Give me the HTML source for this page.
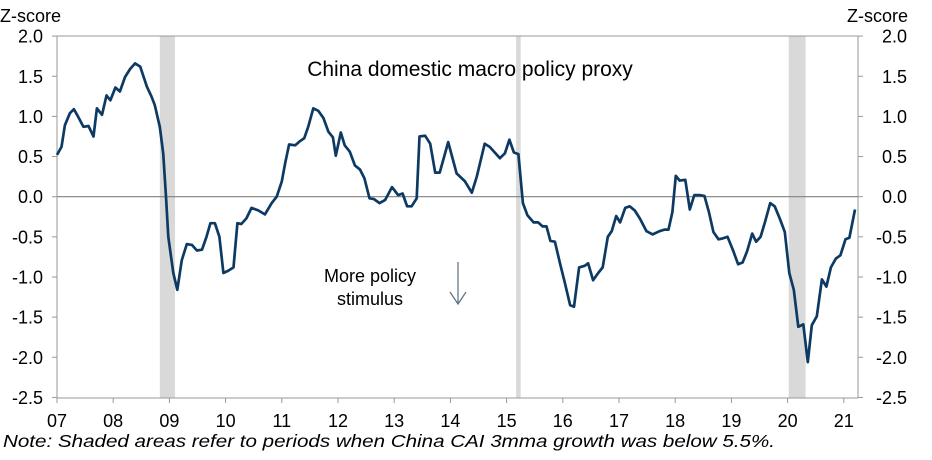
<!DOCTYPE html>
<html><head><meta charset="utf-8"><style>
html,body{margin:0;padding:0;background:#fff;}
svg{display:block;font-family:"Liberation Sans",sans-serif;}
</style></head><body>
<svg id="chart" width="932" height="460">
<g id="bands"></g>
<g id="frame"></g>
<g id="yticks"></g>
<g id="xticks"></g>
<path id="line" fill="none" stroke="#0d3a63" stroke-width="2.7" stroke-linejoin="round"></path>
<text x="0" y="22" font-size="18" fill="#000">Z-score</text>
<text x="908" y="22" font-size="18" fill="#000" text-anchor="end">Z-score</text>
<text x="470" y="76" font-size="21" text-anchor="middle" fill="#000">China domestic macro policy proxy</text>
<text x="370" y="282" font-size="18" text-anchor="middle" fill="#000">More policy</text>
<text x="370" y="305" font-size="18" text-anchor="middle" fill="#000">stimulus</text>
<g stroke="#5a6e80" stroke-width="1.2" fill="none">
<line x1="458" y1="262" x2="458" y2="304"/><polyline points="450,292 458,304 466,292"/></g>
<text x="3" y="447" font-size="17.5" font-style="italic" fill="#000" textLength="772" lengthAdjust="spacingAndGlyphs">Note: Shaded areas refer to periods when China CAI 3mma growth was below 5.5%.</text>
</svg>
<script>
const years=[2007,2008,2009,2010,2011,2012,2013,2014,2015,2016,2017,2018,2019,2020,2021];
const yTicks=[2.0,1.5,1.0,0.5,0.0,-0.5,-1.0,-1.5,-2.0,-2.5];
const bandStarts=[2008.83,2015.17,2020.02];
const bandEnds=[2009.1,2015.25,2020.32];
const dates=[2007.0,2007.08,2007.14,2007.23,2007.3,2007.38,2007.47,2007.56,2007.65,2007.71,2007.8,2007.88,2007.95,2008.04,2008.12,2008.21,2008.3,2008.39,2008.48,2008.6,2008.68,2008.74,2008.83,2008.89,2008.94,2008.98,2009.07,2009.14,2009.22,2009.31,2009.4,2009.49,2009.58,2009.66,2009.73,2009.81,2009.89,2009.96,2010.05,2010.14,2010.21,2010.28,2010.37,2010.46,2010.58,2010.7,2010.82,2010.91,2011.0,2011.06,2011.13,2011.24,2011.32,2011.4,2011.47,2011.56,2011.65,2011.74,2011.83,2011.91,2011.96,2012.05,2012.12,2012.21,2012.3,2012.39,2012.47,2012.56,2012.64,2012.74,2012.84,2012.96,2013.07,2013.15,2013.23,2013.31,2013.4,2013.45,2013.55,2013.64,2013.73,2013.81,2013.96,2014.11,2014.26,2014.38,2014.47,2014.61,2014.7,2014.88,2014.97,2015.05,2015.13,2015.21,2015.29,2015.37,2015.48,2015.56,2015.64,2015.71,2015.78,2015.86,2015.95,2016.04,2016.13,2016.2,2016.29,2016.39,2016.45,2016.54,2016.63,2016.71,2016.8,2016.87,2016.95,2017.02,2017.11,2017.19,2017.28,2017.37,2017.49,2017.6,2017.72,2017.81,2017.88,2017.95,2018.01,2018.08,2018.18,2018.26,2018.34,2018.43,2018.52,2018.6,2018.68,2018.77,2018.84,2018.93,2019.03,2019.12,2019.2,2019.28,2019.37,2019.44,2019.52,2019.6,2019.69,2019.77,2019.86,2019.95,2020.03,2020.11,2020.19,2020.28,2020.36,2020.43,2020.52,2020.61,2020.69,2020.77,2020.86,2020.94,2021.03,2021.1,2021.2];
const values=[0.52,0.62,0.89,1.04,1.09,0.99,0.87,0.88,0.75,1.10,1.02,1.26,1.20,1.36,1.31,1.49,1.59,1.66,1.62,1.37,1.25,1.14,0.87,0.54,0.0,-0.50,-0.95,-1.16,-0.79,-0.59,-0.60,-0.67,-0.66,-0.50,-0.33,-0.33,-0.50,-0.95,-0.92,-0.88,-0.33,-0.34,-0.27,-0.14,-0.17,-0.22,-0.08,0.0,0.19,0.42,0.65,0.64,0.69,0.73,0.87,1.10,1.07,0.98,0.81,0.74,0.51,0.80,0.64,0.56,0.39,0.34,0.23,-0.02,-0.03,-0.08,-0.04,0.12,0.02,0.04,-0.12,-0.12,-0.02,0.75,0.76,0.66,0.30,0.30,0.68,0.29,0.19,0.05,0.25,0.66,0.62,0.48,0.54,0.71,0.55,0.53,-0.08,-0.23,-0.32,-0.32,-0.37,-0.37,-0.55,-0.56,-0.83,-1.08,-1.35,-1.37,-0.88,-0.86,-0.83,-1.04,-0.95,-0.88,-0.50,-0.43,-0.24,-0.32,-0.14,-0.12,-0.17,-0.27,-0.43,-0.47,-0.43,-0.41,-0.41,-0.19,0.26,0.20,0.21,-0.16,0.02,0.02,0.01,-0.19,-0.44,-0.53,-0.52,-0.50,-0.67,-0.84,-0.82,-0.68,-0.46,-0.56,-0.50,-0.31,-0.08,-0.12,-0.27,-0.44,-0.95,-1.16,-1.62,-1.59,-2.06,-1.60,-1.49,-1.03,-1.12,-0.88,-0.77,-0.73,-0.53,-0.51,-0.16];

const L=57,R=858,T=36,B=398;
const xS=v=>57+(v-2007)*56.2;
const yS=v=>196.7-v*80.3;
const NS="http://www.w3.org/2000/svg";
function mk(tag,attrs,parent){const e=document.createElementNS(NS,tag);for(const k in attrs)e.setAttribute(k,attrs[k]);parent.appendChild(e);return e;}
const bands=document.getElementById('bands');
bandStarts.forEach((s,i)=>{
  const r=mk('rect',{x:xS(s),y:T,width:xS(bandEnds[i])-xS(s),height:B-T,fill:'#d9d9d9'},bands);
  
  
});
const frame=document.getElementById('frame');
mk('line',{x1:L,y1:T,x2:R,y2:T,stroke:'#999','stroke-width':1},frame);
mk('line',{x1:L,y1:B,x2:R,y2:B,stroke:'#999','stroke-width':1},frame);
mk('line',{x1:L,y1:T,x2:L,y2:B,stroke:'#999','stroke-width':1},frame);
mk('line',{x1:R,y1:T,x2:R,y2:B,stroke:'#999','stroke-width':1},frame);
mk('line',{x1:L,y1:yS(0),x2:R,y2:yS(0),stroke:'#808080','stroke-width':1.2},frame);
const yt=document.getElementById('yticks');
yTicks.forEach(v=>{
  const y=yS(v);
  mk('line',{x1:L-5,y1:y,x2:L,y2:y,stroke:'#999'},yt);
  mk('line',{x1:R,y1:y,x2:R+5,y2:y,stroke:'#999'},yt);
  const a=mk('text',{x:43,y:y+6.5,'font-size':18,'text-anchor':'end'},yt);
  a.textContent=v.toFixed(1);
  
  
  const b=mk('text',{x:907,y:y+6.5,'font-size':18,'text-anchor':'end'},yt);
  b.textContent=v.toFixed(1);
  
  
});
const xt=document.getElementById('xticks');
years.forEach(yr=>{
  const x=xS(yr);
  mk('line',{x1:x,y1:B,x2:x,y2:B+5,stroke:'#999'},xt);
  const t=mk('text',{x:x,y:427,'font-size':18,'text-anchor':'middle'},xt);
  t.textContent=String(yr%100).padStart(2,'0');
  
  
});
document.getElementById('line').setAttribute('d',dates.map((d,i)=>(i?'L':'M')+xS(d).toFixed(1)+','+yS(values[i]).toFixed(1)).join(''));
</script>
</body></html>
